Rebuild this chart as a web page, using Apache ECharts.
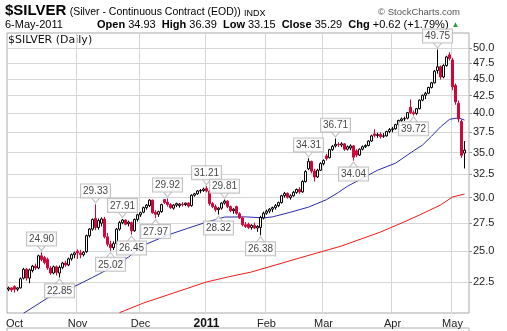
<!DOCTYPE html>
<html><head><meta charset="utf-8">
<script src="https://cdn.jsdelivr.net/npm/echarts@6/dist/echarts.min.js"></script>
<style>html,body{margin:0;padding:0;background:#fff}#c{width:507px;height:331px}</style>
</head><body><div id="c"></div>
<script>
// ---- trading calendar (categories) ----
const holidays = ['2010-11-25','2010-12-24','2011-01-17','2011-02-21','2011-04-22'];
const dates = [];
for (let d = new Date(Date.UTC(2010, 8, 29)); d <= new Date(Date.UTC(2011, 4, 6)); d.setUTCDate(d.getUTCDate() + 1)) {
  const wd = d.getUTCDay(); const s = d.toISOString().slice(0, 10);
  if (wd === 0 || wd === 6 || holidays.includes(s)) continue;
  dates.push(s);
}
// ---- daily OHLC ($SILVER) ----
const opens = [21.95,22.05,22.15,21.95,22.05,22.80,23.50,22.80,23.40,23.75,23.60,24.60,24.45,24.30,23.60,23.20,23.70,23.20,23.65,24.00,23.85,24.35,24.70,25.00,24.85,24.70,24.95,26.35,26.95,27.95,27.10,27.50,27.90,26.25,25.60,25.30,25.65,26.95,27.55,27.80,27.45,27.55,26.80,27.85,28.30,28.55,29.00,29.20,29.75,28.55,28.35,28.60,29.80,29.55,29.30,28.95,29.25,29.20,29.35,29.30,29.45,29.20,30.25,30.40,30.70,30.75,30.95,30.70,29.40,29.10,28.80,28.95,29.45,29.65,29.10,28.70,29.10,28.40,28.00,27.35,27.40,27.10,27.30,27.05,27.10,28.00,28.45,28.65,28.85,29.00,29.20,29.50,30.20,30.45,30.00,30.20,30.55,30.85,30.60,31.70,33.10,33.95,32.85,32.20,32.95,33.70,34.60,34.40,35.35,35.80,36.00,35.90,36.05,35.40,35.55,35.80,35.20,34.70,35.40,35.70,35.85,36.40,37.30,37.10,37.25,37.00,37.05,37.60,37.85,37.95,38.50,39.05,39.25,39.35,40.85,40.10,40.00,40.65,41.85,42.55,42.85,43.70,44.40,46.30,46.90,45.30,47.10,48.85,48.00,44.00,41.40,38.90,34.93];
const highs = [22.15,22.10,22.25,22.10,22.85,23.60,23.60,23.55,23.85,23.95,24.70,24.90,24.60,24.45,23.75,23.80,23.80,23.80,24.10,24.20,24.45,24.80,24.95,25.15,25.10,25.00,26.45,27.05,27.95,29.33,27.95,28.05,28.10,26.60,25.90,25.85,27.05,27.70,27.91,27.85,27.75,27.65,27.95,28.40,28.60,29.10,29.35,29.85,29.80,28.75,28.70,29.40,29.85,29.92,29.45,29.35,29.50,29.45,29.55,29.50,29.55,30.35,30.50,30.80,30.90,31.05,31.21,30.80,29.55,29.30,29.05,29.55,29.81,29.75,29.20,28.95,29.20,28.55,28.10,27.60,27.55,27.40,27.55,27.30,28.20,28.60,28.80,28.95,29.10,29.35,29.60,30.30,30.60,30.55,30.35,30.70,30.95,31.10,31.85,32.95,34.31,34.05,33.10,33.10,33.85,34.20,34.85,35.45,35.90,36.71,36.25,36.25,36.15,35.85,36.00,35.90,35.40,35.50,35.85,36.00,36.50,37.20,37.90,37.45,37.50,37.40,37.70,38.05,38.20,38.60,39.15,39.45,39.55,40.20,41.95,40.40,40.75,41.95,42.65,43.05,43.80,44.55,46.40,49.75,47.10,47.30,48.70,49.30,48.35,44.30,41.80,39.20,36.39];
const lows = [21.80,21.75,21.70,21.80,22.00,22.70,22.60,22.40,23.25,23.45,23.50,24.15,23.90,23.45,23.05,23.10,23.00,22.85,23.50,23.70,23.75,24.20,24.40,24.35,24.40,24.55,24.85,26.20,26.80,26.85,26.90,27.20,26.10,25.40,25.02,25.10,25.55,26.80,27.40,27.30,27.20,26.45,26.70,27.65,28.10,28.45,28.80,29.05,28.40,27.97,28.10,28.50,29.35,29.10,28.85,28.80,29.05,29.00,29.10,29.15,29.00,29.10,30.10,30.30,30.45,30.60,30.55,29.20,28.95,28.60,28.32,28.80,29.30,28.95,28.55,28.40,28.30,27.90,27.20,27.05,26.95,26.90,26.95,26.70,26.38,27.85,28.30,28.45,28.55,28.80,29.05,29.40,30.00,29.90,29.80,30.10,30.40,30.40,30.50,31.60,32.95,32.60,31.70,32.10,32.85,33.50,34.05,34.30,35.20,35.60,35.65,35.65,35.20,35.25,35.30,34.04,34.45,34.60,35.25,35.55,35.75,36.30,36.85,36.80,36.70,36.80,36.95,37.40,37.50,37.85,38.35,38.85,38.95,39.20,39.90,39.72,39.80,40.55,41.70,42.00,42.70,43.55,44.30,45.80,44.90,45.10,46.90,47.90,43.30,41.20,38.80,34.35,33.15];
const closes = [22.05,21.90,21.95,22.05,22.75,23.50,22.80,23.45,23.75,23.60,24.60,24.30,24.05,23.60,23.20,23.70,23.25,23.65,24.00,23.85,24.35,24.70,24.85,24.85,24.70,24.90,26.35,26.95,27.85,27.10,27.75,27.90,26.25,25.60,25.30,25.65,26.95,27.55,27.80,27.40,27.60,26.80,27.85,28.30,28.50,29.00,29.25,29.75,28.50,28.35,28.60,29.30,29.50,29.30,29.00,29.25,29.40,29.35,29.30,29.45,29.15,30.25,30.40,30.70,30.75,30.90,30.70,29.40,29.10,28.80,28.95,29.45,29.65,29.10,28.70,28.85,28.45,28.00,27.35,27.20,27.10,27.30,27.05,27.20,28.05,28.45,28.65,28.85,29.00,29.20,29.50,30.20,30.45,30.05,30.20,30.55,30.85,30.60,31.70,32.80,33.95,32.85,32.20,32.95,33.70,34.05,34.30,35.35,35.75,36.00,35.95,36.05,35.40,35.70,35.80,34.45,34.70,35.40,35.70,35.85,36.40,37.05,37.10,37.20,36.95,37.05,37.60,37.85,37.95,38.50,39.05,39.25,39.30,40.10,40.10,39.95,40.65,41.85,42.55,42.85,43.70,44.40,46.20,46.90,45.30,47.10,48.50,48.25,43.80,41.60,39.25,34.67,35.29];
// ---- moving averages ----
const ma50Dates = ['2010-10-06','2010-10-18','2010-10-28','2010-11-08','2010-11-16','2010-11-24','2010-12-02','2010-12-14','2010-12-23','2011-01-03','2011-01-11','2011-01-21','2011-01-31','2011-02-03','2011-02-11','2011-02-22','2011-03-02','2011-03-08','2011-03-11','2011-03-18','2011-03-25','2011-04-04','2011-04-12','2011-04-15','2011-04-20','2011-04-26','2011-04-29','2011-05-04','2011-05-06'];
const ma50Values = [20.22,21.30,22.05,22.85,23.60,24.50,25.50,26.40,27.05,27.60,28.08,28.10,28.00,28.10,28.55,29.05,29.80,30.55,31.20,32.05,32.95,33.75,35.20,35.90,37.00,38.20,39.20,39.40,39.10];
const ma200Dates = ['2010-11-19','2010-12-02','2010-12-16','2011-01-03','2011-01-12','2011-01-25','2011-02-16','2011-03-09','2011-03-28','2011-04-06','2011-04-14','2011-04-26','2011-05-02','2011-05-06'];
const ma200Values = [20.26,20.94,21.67,22.50,22.88,23.28,24.42,25.44,26.68,27.51,28.28,29.26,30.07,30.38];
// ---- annotated swing highs / lows ----
const highDates = ['2010-10-14','2010-11-09','2010-11-22','2010-12-14','2011-01-03','2011-01-11','2011-02-22','2011-03-07','2011-04-25'];
const highValues = [24.90,29.33,27.91,29.92,31.21,29.81,34.31,36.71,49.75];
const lowDates = ['2010-10-22','2010-11-16','2010-11-26','2010-12-08','2011-01-07','2011-01-28','2011-03-15','2011-04-12'];
const lowValues = [22.85,25.02,26.45,27.97,28.32,26.38,34.04,39.72];
// ---- axis ----
const yTicks = [22.5,25,27.5,30,32.5,35,37.5,40,42.5,45,47.5,50];
const yMinPrice = 20.24, yMaxPrice = 52.63;
const monthNames = ['Jan','Feb','Mar','Apr','May','Jun','Jul','Aug','Sep','Oct','Nov','Dec'];

const L = Math.log;
const cats = dates.concat(['']);
function monthStart(i) {
  if (i <= 0 || i >= dates.length) return false;
  return dates[i].slice(5, 7) !== dates[i - 1].slice(5, 7);
}
const FONT = 'Liberation Sans, Arial, sans-serif';
const noteLabel = {
  show: true, formatter: p => Math.exp(p.value[1]).toFixed(2),
  fontFamily: FONT, fontSize: 10, color: '#111', backgroundColor: '#fff',
  borderColor: '#b4b4b4', borderWidth: 1, padding: [2, 2, 1, 2], distance: 0
};
const chart = echarts.init(document.getElementById('c'), null, {renderer: 'canvas'});
chart.setOption({
  animation: false,
  grid: {left: 7, right: 38, top: 33, bottom: 18, show: true, borderColor: '#a8a8a8', borderWidth: 1, backgroundColor: 'transparent'},
  xAxis: {
    type: 'category', data: cats, boundaryGap: true,
    axisLine: {show: false}, axisTick: {show: false},
    axisLabel: {
      interval: (i) => monthStart(i), margin: 5, fontFamily: FONT, fontSize: 11, color: '#222',
      formatter: (v) => { const m = +v.slice(5, 7); return m === 1 ? '{y|' + v.slice(0, 4) + '}' : monthNames[m - 1]; },
      rich: {y: {fontWeight: 'bold', fontSize: 12, fontFamily: FONT, color: '#111'}}
    },
    splitLine: {show: true, interval: (i) => monthStart(i) && i > 5, lineStyle: {color: '#d6d6d6', width: 1}}
  },
  yAxis: {
    type: 'value', position: 'right', min: L(yMinPrice), max: L(yMaxPrice), scale: true,
    axisLine: {show: false},
    axisTick: {show: true, length: 3, customValues: yTicks.map(L), lineStyle: {color: '#999'}},
    axisLabel: {customValues: yTicks.map(L), formatter: (v) => Math.exp(v).toFixed(1), margin: 4, fontFamily: FONT, fontSize: 11, color: '#222'},
    splitLine: {show: true, lineStyle: {color: '#d6d6d6', width: 1}}
  },
  series: [
    {type: 'line', data: ma200Dates.map((d, i) => [d, L(ma200Values[i])]), symbol: 'none', lineStyle: {color: '#f01818', width: 1}, z: 2, silent: true},
    {type: 'line', data: ma50Dates.map((d, i) => [d, L(ma50Values[i])]), symbol: 'none', lineStyle: {color: '#2b2ba6', width: 1}, z: 2, silent: true},
    {type: 'candlestick', barWidth: 3, z: 3,
      data: dates.map((d, i) => [L(opens[i]), L(closes[i]), L(lows[i]), L(highs[i])]),
      itemStyle: {color: '#ffffff', color0: '#d2063b', borderColor: '#000000', borderColor0: '#d2063b', borderWidth: 1}},
    {type: 'scatter', z: 5, data: highDates.map((d, i) => [d, L(highValues[i])]),
      symbol: 'path://M0,0L4,5L8,0', symbolSize: [8, 5], symbolOffset: [0, -4],
      itemStyle: {color: '#fff', borderColor: '#b4b4b4', borderWidth: 1}, label: Object.assign({position: 'top'}, noteLabel)},
    {type: 'scatter', z: 5, data: lowDates.map((d, i) => [d, L(lowValues[i])]),
      symbol: 'path://M0,5L4,0L8,5', symbolSize: [8, 5], symbolOffset: [0, 4],
      itemStyle: {color: '#fff', borderColor: '#b4b4b4', borderWidth: 1}, label: Object.assign({position: 'bottom'}, noteLabel)}
  ],
  graphic: [
    {type: 'text', left: 5, top: 3, style: {text: '{a|$SILVER} {b|(Silver - Continuous Contract (EOD))} {c|INDX}', rich: {
      a: {fontFamily: FONT, fontSize: 15, fontWeight: 'bold', fill: '#000', verticalAlign: 'bottom', lineHeight: 16},
      b: {fontFamily: FONT, fontSize: 10.5, fill: '#000', verticalAlign: 'bottom', lineHeight: 14},
      c: {fontFamily: FONT, fontSize: 9, fill: '#000', verticalAlign: 'bottom', lineHeight: 13}}}},
    {type: 'text', right: 47, top: 7, style: {text: '\u00a9 StockCharts.com', fontFamily: FONT, fontSize: 9.5, fill: '#555'}},
    {type: 'text', left: 5, top: 19, style: {text: '6-May-2011', fontFamily: FONT, fontSize: 11, fill: '#000'}},
    {type: 'text', left: 97, top: 19, style: {text: '{k|Open} 34.93  {k|High} 36.39  {k|Low} 33.15  {k|Close} 35.29  {k|Chg} +0.62 (+1.79%) {g|\u25b2}',
      fontFamily: FONT, fontSize: 11, fill: '#000', rich: {
      k: {fontFamily: FONT, fontSize: 11, fontWeight: 'bold', fill: '#000'},
      g: {fontFamily: FONT, fontSize: 8, fill: '#2a9a3a'}}}},
    {type: 'text', left: 8, top: 35, style: {text: '$SILVER (Daily)', fontFamily: 'DejaVu Sans', fontSize: 11, fill: '#111'}},
    {type: 'rect', shape: {x: 7, y: 328, width: 462, height: 12}, style: {fill: 'none', stroke: '#b0b0b0', lineWidth: 1}}
  ]
});
</script></body></html>
